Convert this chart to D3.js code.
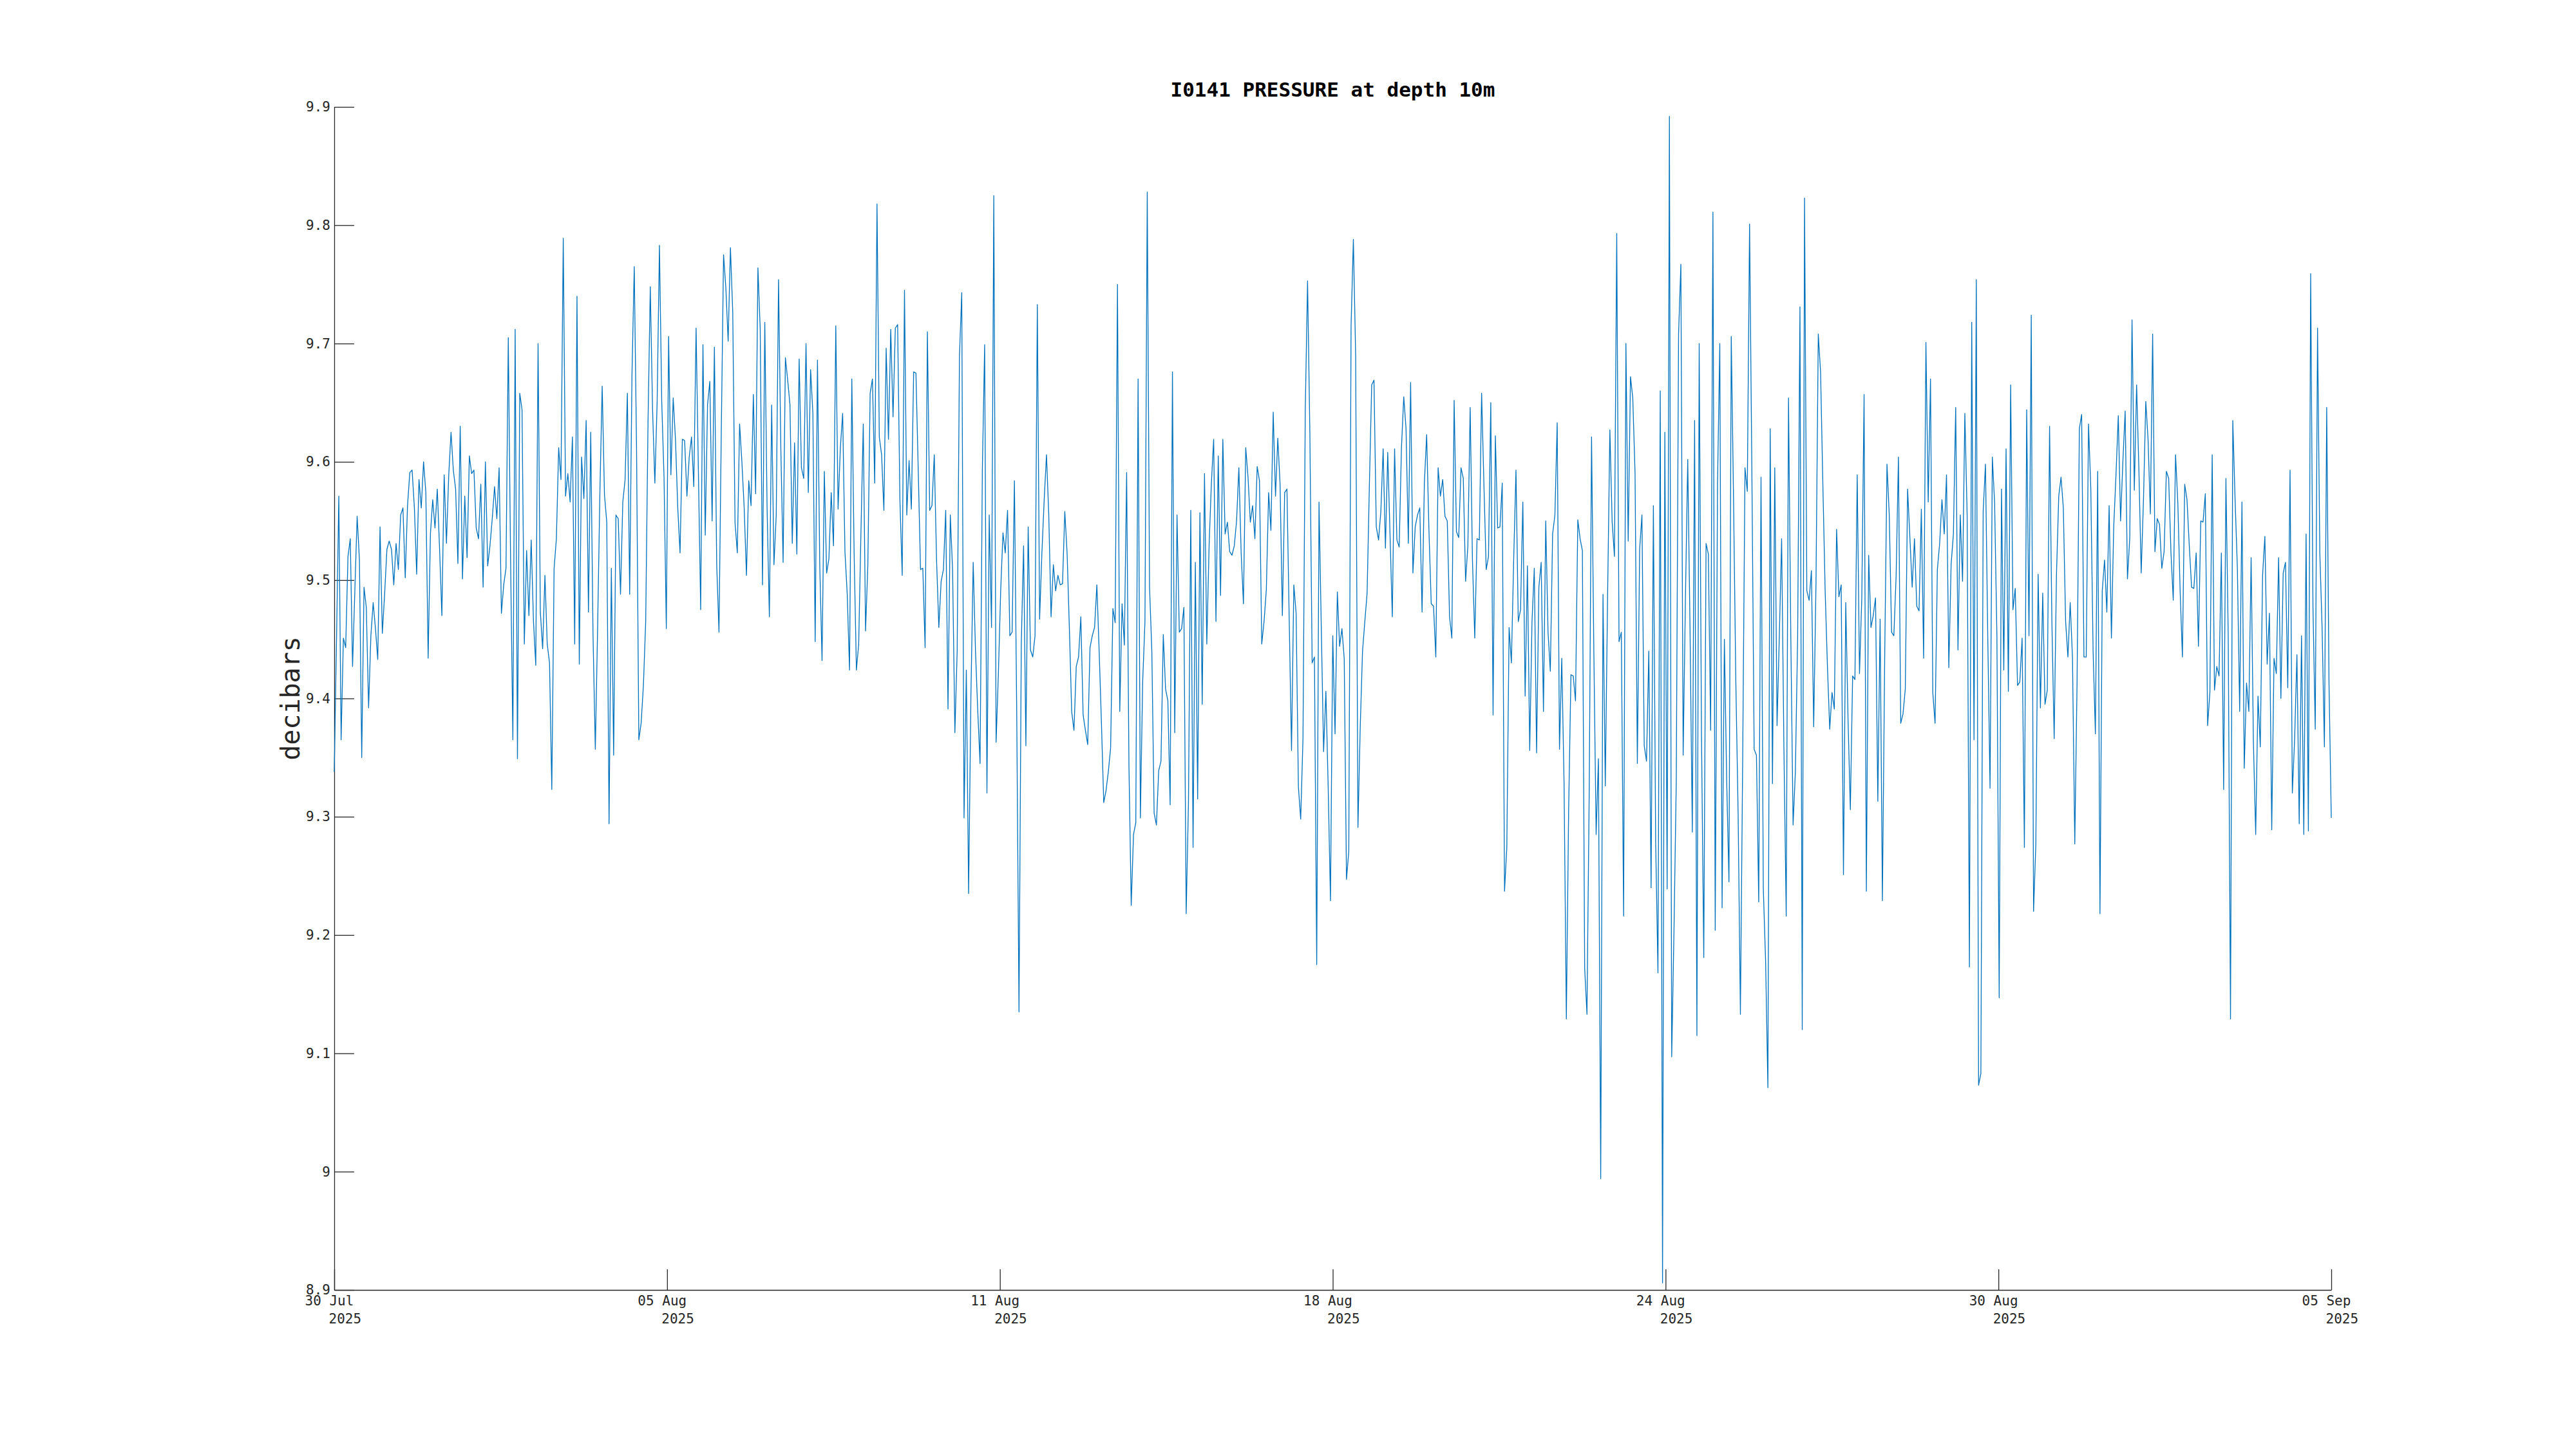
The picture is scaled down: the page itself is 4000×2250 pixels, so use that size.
<!DOCTYPE html>
<html>
<head>
<meta charset="utf-8">
<script src="https://cdn.jsdelivr.net/npm/d3@7"></script>
<style>
    body { margin: 0; background: #fff; }
    .axis text { font-family: "DejaVu Sans Mono", monospace; font-size: 21px; fill: #262626; }
    .axis path, .axis line { stroke: #262626; stroke-width: 1.3px; }
</style>
</head>
<body>
<div id="chart"></div>
<script>
// I0141 pressure at 10 m, roughly hourly readings, split in chunks of ~5 days
const pressure1 = [9.338, 9.45, 9.571, 9.365, 9.451, 9.443, 9.520, 9.535, 9.427, 9.491, 9.554, 9.517, 9.350, 9.494, 9.477, 9.392, 9.453, 9.481, 9.459, 9.433, 9.545, 9.455, 9.488, 9.526, 9.533, 9.526, 9.496, 9.531, 9.509, 9.555, 9.561, 9.502, 9.563, 9.591, 9.593, 9.561, 9.505, 9.585, 9.561, 9.600, 9.574, 9.434, 9.539, 9.568, 9.544, 9.577, 9.526, 9.470, 9.589, 9.531, 9.589, 9.625, 9.593, 9.577, 9.514, 9.630, 9.501, 9.571, 9.519, 9.605, 9.590, 9.593, 9.544, 9.535, 9.581, 9.494, 9.600, 9.512, 9.529, 9.552, 9.579, 9.552, 9.595, 9.472, 9.496, 9.510, 9.705, 9.517, 9.365, 9.712, 9.349, 9.658, 9.644, 9.446, 9.525, 9.470, 9.534, 9.465, 9.428, 9.700, 9.473, 9.442, 9.504, 9.446, 9.430, 9.323, 9.510, 9.535, 9.612, 9.585, 9.789, 9.571, 9.590, 9.566, 9.621, 9.446, 9.740, 9.429, 9.604, 9.569, 9.635, 9.473, 9.625, 9.453, 9.357, 9.459, 9.574, 9.664, 9.572, 9.549, 9.294, 9.510, 9.352, 9.555, 9.552];
const pressure2 = [9.488, 9.566, 9.585, 9.658, 9.488, 9.673, 9.765, 9.612, 9.365, 9.379, 9.411, 9.465, 9.632, 9.748, 9.644, 9.582, 9.651, 9.783, 9.651, 9.587, 9.459, 9.706, 9.589, 9.654, 9.619, 9.561, 9.523, 9.619, 9.618, 9.571, 9.604, 9.621, 9.579, 9.713, 9.593, 9.475, 9.699, 9.538, 9.648, 9.668, 9.550, 9.697, 9.513, 9.456, 9.625, 9.775, 9.747, 9.702, 9.781, 9.727, 9.549, 9.523, 9.632, 9.600, 9.561, 9.504, 9.584, 9.563, 9.657, 9.573, 9.764, 9.712, 9.496, 9.718, 9.561, 9.469, 9.648, 9.513, 9.555, 9.754, 9.612, 9.515, 9.688, 9.669, 9.648, 9.531, 9.616, 9.522, 9.687, 9.595, 9.586, 9.700, 9.574, 9.678, 9.641, 9.448, 9.686, 9.513, 9.432, 9.592, 9.506, 9.518, 9.574, 9.529, 9.715, 9.560, 9.612, 9.641, 9.524, 9.488, 9.424, 9.670, 9.523, 9.424, 9.446, 9.542, 9.632, 9.457, 9.513, 9.658, 9.670, 9.582, 9.818, 9.621, 9.606, 9.559, 9.696, 9.619, 9.712, 9.638, 9.713, 9.716, 9.568];
const pressure3 = [9.504, 9.745, 9.555, 9.601, 9.560, 9.676, 9.675, 9.593, 9.509, 9.510, 9.443, 9.710, 9.559, 9.563, 9.606, 9.517, 9.460, 9.499, 9.509, 9.559, 9.391, 9.555, 9.509, 9.371, 9.440, 9.689, 9.743, 9.299, 9.424, 9.235, 9.402, 9.515, 9.440, 9.389, 9.345, 9.593, 9.699, 9.320, 9.555, 9.460, 9.825, 9.363, 9.421, 9.491, 9.540, 9.523, 9.559, 9.453, 9.456, 9.584, 9.389, 9.135, 9.446, 9.529, 9.360, 9.545, 9.441, 9.435, 9.453, 9.733, 9.467, 9.523, 9.568, 9.606, 9.555, 9.469, 9.513, 9.491, 9.504, 9.496, 9.497, 9.558, 9.523, 9.459, 9.389, 9.373, 9.427, 9.435, 9.469, 9.386, 9.373, 9.361, 9.443, 9.453, 9.460, 9.496, 9.440, 9.379, 9.312, 9.322, 9.338, 9.358, 9.476, 9.464, 9.750, 9.389, 9.480, 9.445, 9.591, 9.344, 9.225, 9.285, 9.295, 9.670, 9.299, 9.414, 9.465, 9.828, 9.494, 9.440, 9.303, 9.293, 9.339, 9.347, 9.454, 9.408, 9.398, 9.310, 9.676, 9.371, 9.555, 9.456, 9.459, 9.477];
const pressure4 = [9.218, 9.312, 9.559, 9.274, 9.515, 9.315, 9.557, 9.395, 9.590, 9.446, 9.529, 9.582, 9.619, 9.465, 9.605, 9.487, 9.619, 9.539, 9.549, 9.524, 9.521, 9.529, 9.550, 9.595, 9.523, 9.480, 9.612, 9.587, 9.549, 9.563, 9.535, 9.596, 9.584, 9.446, 9.465, 9.492, 9.574, 9.542, 9.642, 9.571, 9.620, 9.581, 9.470, 9.574, 9.577, 9.465, 9.356, 9.496, 9.472, 9.325, 9.298, 9.366, 9.644, 9.753, 9.625, 9.430, 9.435, 9.175, 9.566, 9.459, 9.355, 9.406, 9.325, 9.229, 9.453, 9.370, 9.490, 9.444, 9.459, 9.434, 9.247, 9.271, 9.715, 9.788, 9.689, 9.291, 9.376, 9.440, 9.465, 9.489, 9.581, 9.665, 9.669, 9.545, 9.534, 9.558, 9.611, 9.527, 9.608, 9.539, 9.469, 9.611, 9.534, 9.528, 9.612, 9.655, 9.628, 9.531, 9.667, 9.506, 9.545, 9.555, 9.561, 9.473, 9.582, 9.623, 9.542, 9.480, 9.478, 9.435, 9.595, 9.571, 9.585, 9.554, 9.550, 9.469, 9.451, 9.652, 9.541, 9.536, 9.595, 9.586, 9.499, 9.529];
const pressure5 = [9.646, 9.517, 9.451, 9.535, 9.534, 9.658, 9.581, 9.509, 9.520, 9.650, 9.386, 9.622, 9.544, 9.545, 9.582, 9.237, 9.274, 9.460, 9.430, 9.517, 9.593, 9.465, 9.475, 9.566, 9.402, 9.512, 9.356, 9.465, 9.510, 9.354, 9.494, 9.515, 9.389, 9.550, 9.456, 9.423, 9.539, 9.555, 9.633, 9.357, 9.434, 9.328, 9.129, 9.306, 9.420, 9.419, 9.398, 9.551, 9.535, 9.525, 9.172, 9.133, 9.325, 9.621, 9.440, 9.285, 9.349, 8.994, 9.488, 9.326, 9.485, 9.627, 9.549, 9.520, 9.793, 9.448, 9.456, 9.216, 9.700, 9.533, 9.672, 9.654, 9.590, 9.345, 9.526, 9.555, 9.360, 9.347, 9.440, 9.240, 9.563, 9.278, 9.168, 9.660, 8.906, 9.625, 9.239, 9.892, 9.097, 9.204, 9.331, 9.708, 9.767, 9.352, 9.485, 9.602, 9.459, 9.287, 9.635, 9.115, 9.700, 9.370, 9.181, 9.531, 9.522, 9.373, 9.811, 9.204, 9.581, 9.700, 9.223, 9.450, 9.331, 9.245, 9.706, 9.568, 9.414, 9.303, 9.133, 9.350, 9.595, 9.575, 9.801];
const pressure6 = [9.593, 9.357, 9.352, 9.228, 9.587, 9.239, 9.178, 9.071, 9.628, 9.328, 9.595, 9.377, 9.453, 9.535, 9.357, 9.216, 9.654, 9.453, 9.293, 9.338, 9.453, 9.731, 9.120, 9.823, 9.491, 9.483, 9.508, 9.376, 9.497, 9.708, 9.676, 9.581, 9.491, 9.427, 9.374, 9.405, 9.391, 9.543, 9.486, 9.496, 9.251, 9.481, 9.382, 9.306, 9.419, 9.416, 9.589, 9.421, 9.485, 9.657, 9.237, 9.521, 9.460, 9.470, 9.485, 9.313, 9.467, 9.229, 9.434, 9.598, 9.555, 9.456, 9.453, 9.504, 9.604, 9.379, 9.387, 9.408, 9.577, 9.536, 9.494, 9.535, 9.478, 9.474, 9.560, 9.434, 9.701, 9.566, 9.670, 9.405, 9.379, 9.509, 9.531, 9.568, 9.539, 9.589, 9.426, 9.513, 9.539, 9.646, 9.441, 9.555, 9.499, 9.641, 9.555, 9.173, 9.718, 9.365, 9.754, 9.073, 9.083, 9.558, 9.598, 9.453, 9.324, 9.604, 9.565, 9.453, 9.147, 9.577, 9.424, 9.611, 9.406, 9.665, 9.475, 9.493, 9.411, 9.414, 9.451, 9.274, 9.644, 9.453, 9.724, 9.220];
const pressure7 = [9.277, 9.505, 9.392, 9.489, 9.395, 9.407, 9.630, 9.465, 9.366, 9.504, 9.571, 9.587, 9.561, 9.465, 9.435, 9.481, 9.434, 9.277, 9.414, 9.628, 9.640, 9.435, 9.435, 9.632, 9.577, 9.440, 9.370, 9.592, 9.218, 9.491, 9.517, 9.473, 9.563, 9.451, 9.545, 9.589, 9.639, 9.550, 9.600, 9.643, 9.501, 9.535, 9.720, 9.576, 9.665, 9.593, 9.506, 9.568, 9.651, 9.619, 9.556, 9.708, 9.524, 9.552, 9.547, 9.510, 9.524, 9.592, 9.586, 9.523, 9.483, 9.606, 9.565, 9.491, 9.435, 9.581, 9.568, 9.529, 9.494, 9.493, 9.523, 9.444, 9.550, 9.549, 9.573, 9.377, 9.405, 9.606, 9.407, 9.427, 9.419, 9.523, 9.323, 9.586, 9.453, 9.129, 9.635, 9.568, 9.510, 9.389, 9.566, 9.341, 9.413, 9.389, 9.519, 9.363, 9.285, 9.402, 9.359, 9.504, 9.537, 9.429, 9.472, 9.289, 9.434, 9.421, 9.519, 9.400, 9.506, 9.515, 9.409, 9.593, 9.320, 9.366, 9.437, 9.294, 9.453, 9.285, 9.539, 9.288, 9.759, 9.478, 9.374, 9.713, 9.523, 9.459, 9.359, 9.646, 9.414, 9.299];

const timeStart = "2025-07-30T12:00:00";
const timeEnd = "2025-09-05T12:00:00";
const xTickLabels = ["30 Jul", "05 Aug", "11 Aug", "18 Aug", "24 Aug", "30 Aug", "05 Sep"];
const xTickYear = "2025";
const yTickValues = [8.9, 9, 9.1, 9.2, 9.3, 9.4, 9.5, 9.6, 9.7, 9.8, 9.9];
const yDomain = [8.9, 9.9];

const chartTitle = "I0141 PRESSURE at depth 10m";
const yTitle = "decibars";

class PressurePlot {
    constructor(parentElement, values) {
        this.parentElement = parentElement;
        this.values = values;
    }

    initVis() {
        let vis = this;

        vis.margin = {top: 166, right: 380, bottom: 247, left: 519};
        vis.width = 4000 - vis.margin.left - vis.margin.right;
        vis.height = 2250 - vis.margin.top - vis.margin.bottom;

        vis.root = d3.select("#" + vis.parentElement).append("svg")
            .attr("width", 4000)
            .attr("height", 2250)
            .style("background", "#fff");

        vis.svg = vis.root.append("g")
            .attr("transform", "translate(" + vis.margin.left + "," + vis.margin.top + ")");

        let t0 = new Date(timeStart), t1 = new Date(timeEnd);

        vis.x = d3.scaleTime()
            .domain([t0, t1])
            .range([0, vis.width]);

        vis.y = d3.scaleLinear()
            .domain(yDomain)
            .range([vis.height, 0]);

        // readings are evenly spaced over the record
        let idx = d3.scaleLinear().domain([0, vis.values.length - 1]).range([t0, t1]);
        vis.data = vis.values.map((v, i) => ({time: new Date(idx(i)), value: v}));

        vis.tickDates = xTickLabels.map((d, i) => new Date(+t0 + i * (t1 - t0) / (xTickLabels.length - 1)));

        vis.xAxis = d3.axisBottom(vis.x)
            .tickValues(vis.tickDates)
            .tickSizeInner(-32)
            .tickSizeOuter(0)
            .tickFormat("");

        vis.yAxis = d3.axisLeft(vis.y)
            .tickValues(yTickValues)
            .tickSizeInner(-31)
            .tickSizeOuter(0)
            .tickPadding(6)
            .tickFormat(d3.format("~g"));

        vis.svg.append("g")
            .attr("class", "x-axis axis")
            .attr("transform", "translate(0," + vis.height + ")");

        vis.svg.append("g")
            .attr("class", "y-axis axis");

        vis.svg.append("text")
            .attr("x", vis.width / 2)
            .attr("y", -16)
            .attr("text-anchor", "middle")
            .style("font-family", "'DejaVu Sans Mono', monospace")
            .style("font-size", "31px")
            .style("font-weight", "bold")
            .style("fill", "#000")
            .text(chartTitle);

        vis.svg.append("text")
            .attr("transform", `translate(-54, ${vis.height / 2}) rotate(-90)`)
            .attr("text-anchor", "middle")
            .style("font-family", "'DejaVu Sans Mono', monospace")
            .style("font-size", "40px")
            .style("fill", "#262626")
            .text(yTitle);

        vis.updateVis();
    }

    updateVis() {
        let vis = this;

        let line = d3.line()
            .x(d => vis.x(d.time))
            .y(d => vis.y(d.value));

        vis.svg.append("path")
            .datum(vis.data)
            .attr("fill", "none")
            .attr("stroke", "#0072BD")
            .attr("stroke-width", 1.3)
            .attr("stroke-linejoin", "round")
            .attr("d", line);

        vis.svg.select(".x-axis").call(vis.xAxis);
        vis.svg.select(".y-axis").call(vis.yAxis);

        // two line date labels, second line shifted right like the original
        let ticks = vis.svg.select(".x-axis").selectAll(".tick");
        ticks.select("text").remove();
        ticks.append("text")
            .attr("x", -46)
            .attr("y", 24)
            .attr("text-anchor", "start")
            .text((d, i) => xTickLabels[i]);
        ticks.append("text")
            .attr("x", -9)
            .attr("y", 52)
            .attr("text-anchor", "start")
            .text(xTickYear);
    }
}

let allPressure = [].concat(pressure1, pressure2, pressure3, pressure4, pressure5, pressure6, pressure7);
let plot = new PressurePlot("chart", allPressure);
plot.initVis();
</script>
</body>
</html>
